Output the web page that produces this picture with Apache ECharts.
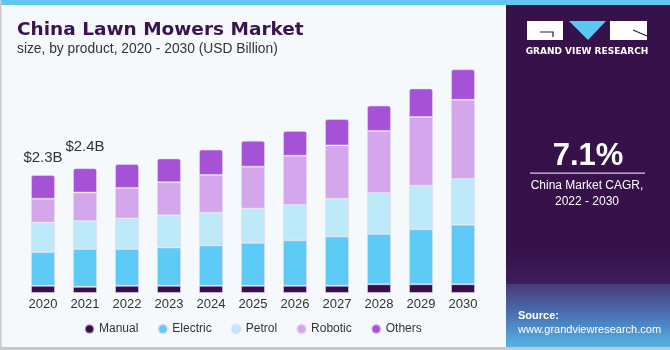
<!DOCTYPE html>
<html>
<head>
<meta charset="utf-8">
<script src="https://cdn.jsdelivr.net/npm/echarts@6/dist/echarts.min.js"></script>
<style>
html,body{margin:0;padding:0;background:#f5f9fc;}
#chart{width:670px;height:350px;}
</style>
</head>
<body>
<div id="chart"></div>
<script>
var years = ['2020','2021','2022','2023','2024','2025','2026','2027','2028','2029','2030'];
var manual   = [0.14,0.12,0.14,0.14,0.14,0.14,0.14,0.14,0.17,0.17,0.17];
var electric = [0.65,0.73,0.71,0.74,0.78,0.83,0.88,0.95,0.97,1.06,1.15];
var petrol   = [0.57,0.54,0.59,0.62,0.63,0.66,0.68,0.73,0.79,0.84,0.88];
var robotic  = [0.46,0.55,0.59,0.64,0.73,0.81,0.95,1.03,1.20,1.33,1.53];
var others   = [0.46,0.47,0.46,0.46,0.49,0.50,0.48,0.51,0.49,0.55,0.59];
var totalLabels = ['$2.3B','$2.4B'];

var chart = echarts.init(document.getElementById('chart'), null, {renderer:'canvas'});
var FONT = '"Liberation Sans", Arial, sans-serif';

function mkSeries(name, data, color, isTop){
  var s = {
    name: name, type: 'bar', stack: 'total', data: data.slice(),
    barWidth: 24,
    itemStyle: {color: color, borderColor: 'rgba(225,215,245,0.55)', borderWidth: 1,
      borderRadius: isTop ? [2,2,0,0] : 0},
    emphasis: {disabled: true}
  };
  if (isTop) {
    s.data = data.map(function(v, i){
      if (i < totalLabels.length) {
        return {value: v, label: {show: true, position: 'top', distance: i === 0 ? 10 : 14,
          formatter: totalLabels[i], color: '#333', fontSize: 15, fontFamily: FONT}};
      }
      return v;
    });
  }
  return s;
}

var option = {
  backgroundColor: '#f5f9fc',
  animation: false,
  grid: {left: 22, right: 186, top: 60, bottom: 57},
  xAxis: {
    type: 'category', data: years,
    axisLine: {show: false}, axisTick: {show: false},
    axisLabel: {color: '#333', fontSize: 13, fontFamily: FONT, margin: 5}
  },
  yAxis: {type: 'value', min: 0, max: 4.5, show: false, splitLine: {show: false}},
  legend: {
    left: 79, top: 318, icon: 'circle', itemWidth: 9, itemHeight: 9, itemGap: 19,
    textStyle: {color: '#333', fontSize: 12, fontFamily: FONT},
    data: ['Manual','Electric','Petrol','Robotic','Others']
  },
  series: [
    mkSeries('Manual', manual, '#3a0e4b', false),
    mkSeries('Electric', electric, '#5ecaf6', false),
    mkSeries('Petrol', petrol, '#bde9f9', false),
    mkSeries('Robotic', robotic, '#d4a7ed', false),
    mkSeries('Others', others, '#a552d7', true)
  ],
  graphic: [
    {type:'rect', shape:{x:0,y:0,width:670,height:5}, style:{fill:'#63c6f1'}, silent:true, z:10},
    {type:'rect', shape:{x:0,y:0,width:1.5,height:350}, style:{fill:'#c8c8c8'}, silent:true, z:10},
    {type:'rect', shape:{x:0,y:347,width:670,height:3}, style:{fill:'#c8c8c8'}, silent:true, z:10},
    {type:'text', left: 17, top: 21, style:{text:'China Lawn Mowers Market', fill:'#3a1450',
      font:'bold 18.5px "DejaVu Sans", sans-serif'}, z:10},
    {type:'text', left: 17, top: 42, style:{text:'size, by product, 2020 - 2030 (USD Billion)', fill:'#333',
      font:'13.8px ' + FONT}, z:10},
    // right panel
    {type:'rect', shape:{x:506,y:5,width:164,height:342}, style:{fill:'#37114a'}, silent:true, z:5},
    {type:'rect', shape:{x:506,y:250,width:164,height:34}, style:{fill:{type:'linear',x:0,y:0,x2:0,y2:1,
      colorStops:[{offset:0,color:'#37114a'},{offset:1,color:'#3d1f5c'}]}}, silent:true, z:5},
    {type:'rect', shape:{x:506,y:284,width:164,height:63}, style:{fill:{type:'linear',x:0,y:0,x2:0,y2:1,
      colorStops:[{offset:0,color:'#463a78'},{offset:0.5,color:'#4a74b4'},{offset:1,color:'#55b4e6'}]}}, silent:true, z:5},
    // logo
    {type:'rect', shape:{x:527,y:21,width:36,height:19}, style:{fill:'#ffffff'}, z:6},
    {type:'polyline', shape:{points:[[540,32],[553,32],[553,37]]}, style:{stroke:'#37114a', lineWidth:1.2, fill:null}, z:7},
    {type:'polygon', shape:{points:[[569,21],[606,21],[588,40]]}, style:{fill:'#5ac8f4'}, z:6},
    {type:'rect', shape:{x:610,y:21,width:37,height:19}, style:{fill:'#ffffff'}, z:6},
    {type:'line', shape:{x1:633,y1:30,x2:647,y2:36}, style:{stroke:'#37114a', lineWidth:1.2}, z:7},
    {type:'text', x:587, y:52, style:{text:'GRAND VIEW RESEARCH', fill:'#ffffff', align:'center', verticalAlign:'middle',
      font:'bold 9px "DejaVu Sans", sans-serif'}, z:6},
    {type:'text', x:588, y:156, style:{text:'7.1%', fill:'#ffffff', align:'center', verticalAlign:'middle',
      font:'bold 31px ' + FONT}, z:6},
    {type:'rect', shape:{x:530,y:172.5,width:115,height:1.2}, style:{fill:'#d8cce0'}, z:6},
    {type:'text', x:587, y:186, style:{text:'China Market CAGR,', fill:'#ffffff', align:'center', verticalAlign:'middle',
      font:'12px ' + FONT}, z:6},
    {type:'text', x:587, y:202, style:{text:'2022 - 2030', fill:'#ffffff', align:'center', verticalAlign:'middle',
      font:'12px ' + FONT}, z:6},
    {type:'text', x:518, y:316, style:{text:'Source:', fill:'#ffffff', verticalAlign:'middle',
      font:'bold 11px ' + FONT}, z:6},
    {type:'text', x:518, y:330, style:{text:'www.grandviewresearch.com', fill:'#ffffff', verticalAlign:'middle',
      font:'11px ' + FONT}, z:6}
  ]
};
chart.setOption(option);
</script>
</body>
</html>
